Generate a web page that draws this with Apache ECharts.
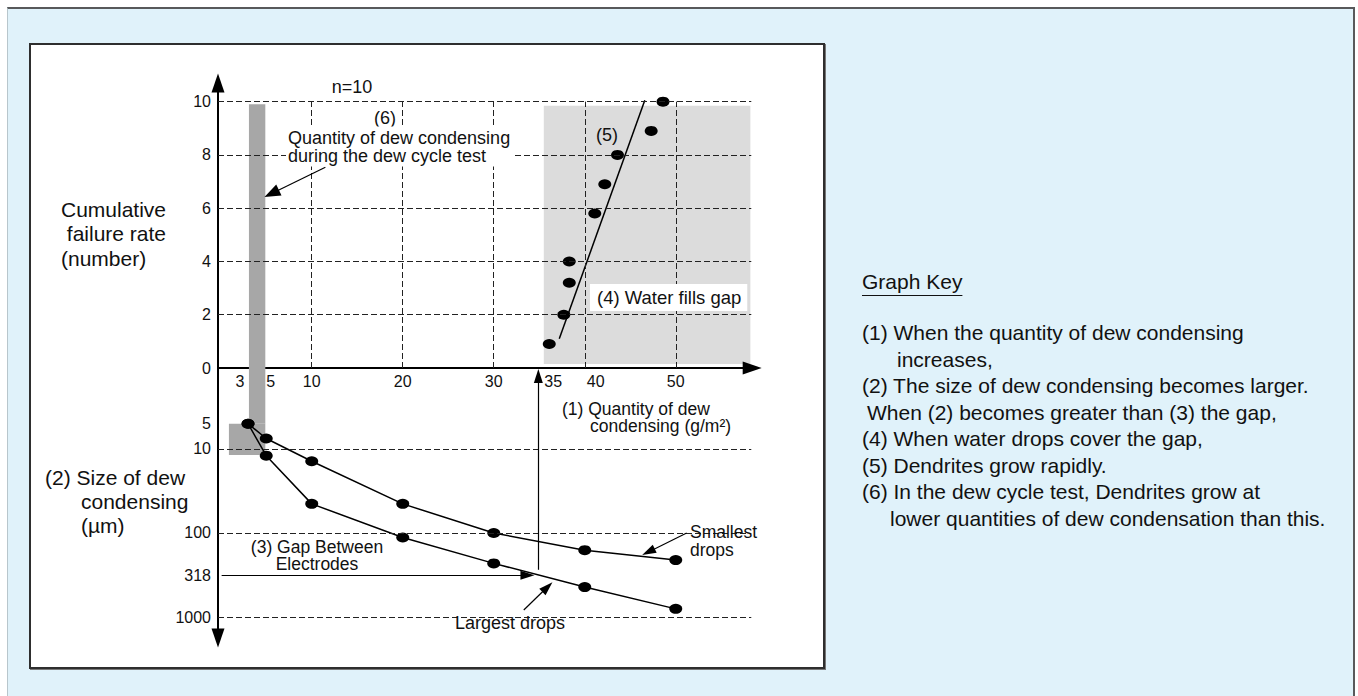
<!DOCTYPE html>
<html>
<head>
<meta charset="utf-8">
<script src="https://cdn.jsdelivr.net/npm/echarts@6/dist/echarts.min.js"></script>
<style>
html, body { margin: 0; padding: 0; width: 1358px; height: 696px; overflow: hidden; background: #fff;
  font-family: "Liberation Sans", Arial, Helvetica, sans-serif; color: #111; }
#panel { position: absolute; left: 7px; top: 7px; width: 1348px; height: 700px; background: #e0f2fa;
  border-top: 2px solid #58595b; border-right: 2px solid #58595b; border-left: 1px solid #b8c6cc; box-sizing: border-box; }
#box { position: absolute; left: 29px; top: 43px; width: 796px; height: 626px; background: #fff;
  border: 2px solid #2e2e2e; box-sizing: border-box; box-shadow: 1px 1px 0 #777; }
#chart { position: absolute; left: 0; top: 0; width: 1358px; height: 696px; }
#keyTitle { position: absolute; left: 862px; top: 269px; font-size: 21px; line-height: 26px;
  text-decoration: underline; text-underline-offset: 6px; text-decoration-thickness: 1px; }
#key { position: absolute; left: 862px; top: 320px; font-size: 21px; line-height: 26.5px; white-space: pre; }
</style>
</head>
<body>
<div id="panel"></div>
<div id="box"></div>
<div id="chart"></div>
<div id="keyTitle">Graph Key</div>
<div id="key"><div>(1) When the quantity of dew condensing</div><div style="padding-left:35px">increases,</div><div>(2) The size of dew condensing becomes larger.</div><div style="padding-left:5px">When (2) becomes greater than (3) the gap,</div><div>(4) When water drops cover the gap,</div><div>(5) Dendrites grow rapidly.</div><div>(6) In the dew cycle test, Dendrites grow at</div><div style="padding-left:28px">lower quantities of dew condensation than this.</div></div>
<script>
// top: cumulative failures vs quantity of dew condensing (g/m2), n=10
const failQty = [36.1, 37.7, 38.3, 38.3, 41.1, 42.2, 43.6, 47.3, 48.6];
const failCount = [0.9, 2, 3.2, 4, 5.8, 6.9, 8, 8.9, 10];
const trendQty = [37.2, 46.6];
const trendCount = [1.1, 10.05];

// bottom: size of dew condensing (um) vs quantity
const dewQty = [3, 5, 10, 20, 30, 40, 50];
const smallestDrops = [5, 7.5, 14, 45, 100, 160, 210];
const largestDrops = [5, 12, 45, 113, 230, 440, 800];

// tick labels
const qtyTicks = [3, 5, 10, 20, 30, 35, 40, 50];
const countTicks = [0, 2, 4, 6, 8, 10];
const sizeTicks = [5, 10, 100, 318, 1000];
const qtyGrid = [10, 20, 30, 40, 50];
const countGrid = [2, 4, 6, 8, 10];
const sizeGrid = [10, 100, 1000];

// shaded ranges
const gapGap = 318;            // (3) gap between electrodes, um
const gapQty = 34.9;           // quantity where drops reach the gap
const fillRange = { qty: [35.5, 58.2], count: [0.15, 9.85] };   // (4)
const cycleRange = { qty: [3.1, 4.9], count: [0, 9.9] };         // (6)
const cycleSize = { qty: [0.9, 4.9], size: [5, 11.8] };

const FONT = '"Liberation Sans", Arial, Helvetica, sans-serif';
const X_MIN = -0.3, X_MAX = 58.4, X_END = 58.3;
const S_MIN = 1.086, S_MAX = 1778;

const chart = echarts.init(document.getElementById('chart'), null, { renderer: 'svg' });

const dashed = { color: '#222', width: 1, type: [6, 3] };
const noLabel = { show: false };
const shift = { 3: 'l', 5: 'r0', 35: 'r', 40: 'r2' };
const tick = { fontSize: 16, fontFamily: FONT, color: '#111' };

function seg(a, b) { return [{ coord: a }, { coord: b }]; }
function head(c, rot) {
  return { coord: c, symbol: 'triangle', symbolSize: [13, 19], symbolRotate: rot,
    itemStyle: { color: '#000' }, label: noLabel };
}
function txt(x, y, text, size, extra) {
  return { type: 'text', x: x, y: y, z: 10,
    style: Object.assign({ text: text, fontSize: size, fontFamily: FONT, fill: '#111', verticalAlign: 'middle' }, extra || {}) };
}

const option = {
  animation: false,
  textStyle: { fontFamily: FONT },
  grid: [
    { left: 218, top: 83, width: 534.2, height: 285 },
    { left: 218, top: 368, width: 534.2, height: 270 }
  ],
  xAxis: [
    {
      gridIndex: 0, type: 'value', min: X_MIN, max: X_MAX,
      axisLine: { show: true, onZero: false, lineStyle: { color: '#000', width: 2 } },
      axisTick: { show: false },
      splitLine: { show: false },
      axisLabel: {
        customValues: qtyTicks, margin: 5, color: '#111', fontSize: 16, fontFamily: FONT,
        formatter: v => shift[v] ? '{' + shift[v] + '|' + v + '}' : '{n|' + v + '}',
        rich: {
          n: tick,
          l: Object.assign({ padding: [0, 16, 0, 0] }, tick),
          r0: Object.assign({ padding: [0, 0, 0, 9] }, tick),
          r: Object.assign({ padding: [0, 0, 0, 28] }, tick),
          r2: Object.assign({ padding: [0, 0, 0, 22] }, tick)
        }
      }
    },
    { gridIndex: 1, type: 'value', min: X_MIN, max: X_MAX, show: false }
  ],
  yAxis: [
    {
      gridIndex: 0, type: 'value', min: 0, max: 10.7,
      axisLine: { show: true, onZero: false, lineStyle: { color: '#000', width: 2 } },
      axisTick: { show: false },
      splitLine: { show: false },
      axisLabel: { customValues: countTicks, margin: 7, color: '#111', fontSize: 16, fontFamily: FONT,
        formatter: v => (v % 2 === 0 ? String(v) : '') }
    },
    {
      gridIndex: 1, type: 'log', logBase: 10, inverse: true, min: S_MIN, max: S_MAX,
      axisLine: { show: true, onZero: false, lineStyle: { color: '#000', width: 2 } },
      axisTick: { show: false },
      splitLine: { show: false },
      axisLabel: { customValues: sizeTicks, margin: 7, color: '#111', fontSize: 16, fontFamily: FONT,
        formatter: v => String(Math.round(v)) }
    }
  ],
  series: [
    // shaded areas
    {
      type: 'line', xAxisIndex: 0, yAxisIndex: 0, data: [], z: 1, silent: true,
      markArea: {
        silent: true,
        data: [
          [{ coord: [fillRange.qty[0], fillRange.count[0]], itemStyle: { color: '#dcdcdc' } },
           { coord: [fillRange.qty[1], fillRange.count[1]] }],
          [{ coord: [cycleRange.qty[0], cycleRange.count[0]], itemStyle: { color: '#a7a7a7' } },
           { coord: [cycleRange.qty[1], cycleRange.count[1]] }]
        ]
      }
    },
    {
      type: 'line', xAxisIndex: 1, yAxisIndex: 1, data: [], z: 1, silent: true,
      markArea: {
        silent: true,
        data: [
          [{ coord: [cycleRange.qty[0], S_MIN], itemStyle: { color: '#a7a7a7' } },
           { coord: [cycleRange.qty[1], cycleSize.size[0]] }],
          [{ coord: [cycleSize.qty[0], cycleSize.size[0]], itemStyle: { color: '#a7a7a7' } },
           { coord: [cycleSize.qty[1], cycleSize.size[1]] }]
        ]
      }
    },
    // dashed grid lines + axis arrow heads
    {
      type: 'line', xAxisIndex: 0, yAxisIndex: 0, data: [], z: 2, silent: true,
      markLine: {
        silent: true, symbol: ['none', 'none'], label: noLabel, lineStyle: dashed, emphasis: { disabled: true },
        data: countGrid.map(c => seg([X_MIN, c], [X_END, c]))
          .concat(qtyGrid.map(q => seg([q, 0], [q, 10])))
      },
      markPoint: {
        silent: true,
        data: [head([X_MIN, 10.7], 0), head([X_MAX, 0], -90)]
      }
    },
    {
      type: 'line', xAxisIndex: 1, yAxisIndex: 1, data: [], z: 2, silent: true,
      markLine: {
        silent: true, symbol: ['none', 'none'], label: noLabel, lineStyle: dashed, emphasis: { disabled: true },
        data: sizeGrid.map(s => seg([X_MIN, s], [X_END, s]))
          .concat(qtyGrid.map(q => seg([q, S_MIN], [q, 1880])))
      },
      markPoint: {
        silent: true,
        data: [head([X_MIN, S_MAX], 180)]
      }
    },
    // failures
    {
      name: 'Cumulative failures', type: 'scatter', xAxisIndex: 0, yAxisIndex: 0, z: 3,
      symbol: 'circle', symbolSize: [13, 10], itemStyle: { color: '#000', opacity: 1 },
      data: failQty.map((q, i) => [q, failCount[i]])
    },
    {
      name: '(5)', type: 'line', xAxisIndex: 0, yAxisIndex: 0, z: 3, showSymbol: false,
      lineStyle: { color: '#000', width: 1.5 },
      data: trendQty.map((q, i) => [q, trendCount[i]])
    },
    // drop sizes
    {
      name: 'Smallest drops', type: 'line', xAxisIndex: 1, yAxisIndex: 1, z: 3,
      symbol: 'circle', symbolSize: [13, 10], itemStyle: { color: '#000', opacity: 1 },
      lineStyle: { color: '#000', width: 1.5 },
      data: dewQty.map((q, i) => [q, smallestDrops[i]])
    },
    {
      name: 'Largest drops', type: 'line', xAxisIndex: 1, yAxisIndex: 1, z: 3,
      symbol: 'circle', symbolSize: [13, 10], itemStyle: { color: '#000', opacity: 1 },
      lineStyle: { color: '#000', width: 1.5 },
      data: dewQty.map((q, i) => [q, largestDrops[i]])
    },
    // annotation arrows
    {
      type: 'line', xAxisIndex: 0, yAxisIndex: 0, data: [], z: 4, silent: true,
      markLine: {
        silent: true, symbol: ['none', 'triangle'], symbolSize: [12, 16], label: noLabel,
        lineStyle: { color: '#000', width: 1.2, type: 'solid' }, emphasis: { disabled: true },
        data: [seg([11.5, 7.54], [5.6, 6.55])]
      }
    },
    {
      type: 'line', xAxisIndex: 1, yAxisIndex: 1, data: [], z: 4, silent: true,
      markLine: {
        silent: true, symbol: ['none', 'triangle'], symbolSize: [9, 14], label: noLabel,
        lineStyle: { color: '#000', width: 1.2, type: 'solid' }, emphasis: { disabled: true },
        data: [
          seg([0.1, gapGap], [33.7, gapGap]),
          seg([gapQty, 274], [gapQty, 1.35]),
          seg([51.2, 100], [47.0, 168]),
          seg([33.3, 825], [35.9, 440])
        ]
      }
    }
  ],
  graphic: [
    txt(61, 233.5, 'Cumulative\n failure rate\n(number)', 21, { lineHeight: 24.5 }),
    txt(45, 477, '(2) Size of dew', 21),
    txt(81, 513.5, 'condensing\n(\u00b5m)', 21, { lineHeight: 23.5 }),
    txt(352, 87, 'n=10', 18, { align: 'center' }),
    txt(385, 118, '(6)', 18, { align: 'center' }),
    txt(286, 146.5, 'Quantity of dew condensing\nduring the dew cycle test', 18, { lineHeight: 18, backgroundColor: '#fff', padding: [2, 3, 2, 2] }),
    txt(607, 135, '(5)', 18, { align: 'center' }),
    txt(590, 297.5, '(4) Water fills gap', 18.5, { backgroundColor: '#fff', padding: [4, 6, 4, 7] }),
    txt(562, 408.5, '(1) Quantity of dew', 17.5),
    txt(590, 426, 'condensing (g/m\u00b2)', 17.5),
    txt(690, 541, 'Smallest\ndrops', 17.5, { lineHeight: 17.5 }),
    txt(317, 555.5, '(3) Gap Between\nElectrodes', 17.5, { lineHeight: 17.5, align: 'center' }),
    txt(455, 623, 'Largest drops', 18)
  ]
};

chart.setOption(option);
</script>
</body>
</html>
